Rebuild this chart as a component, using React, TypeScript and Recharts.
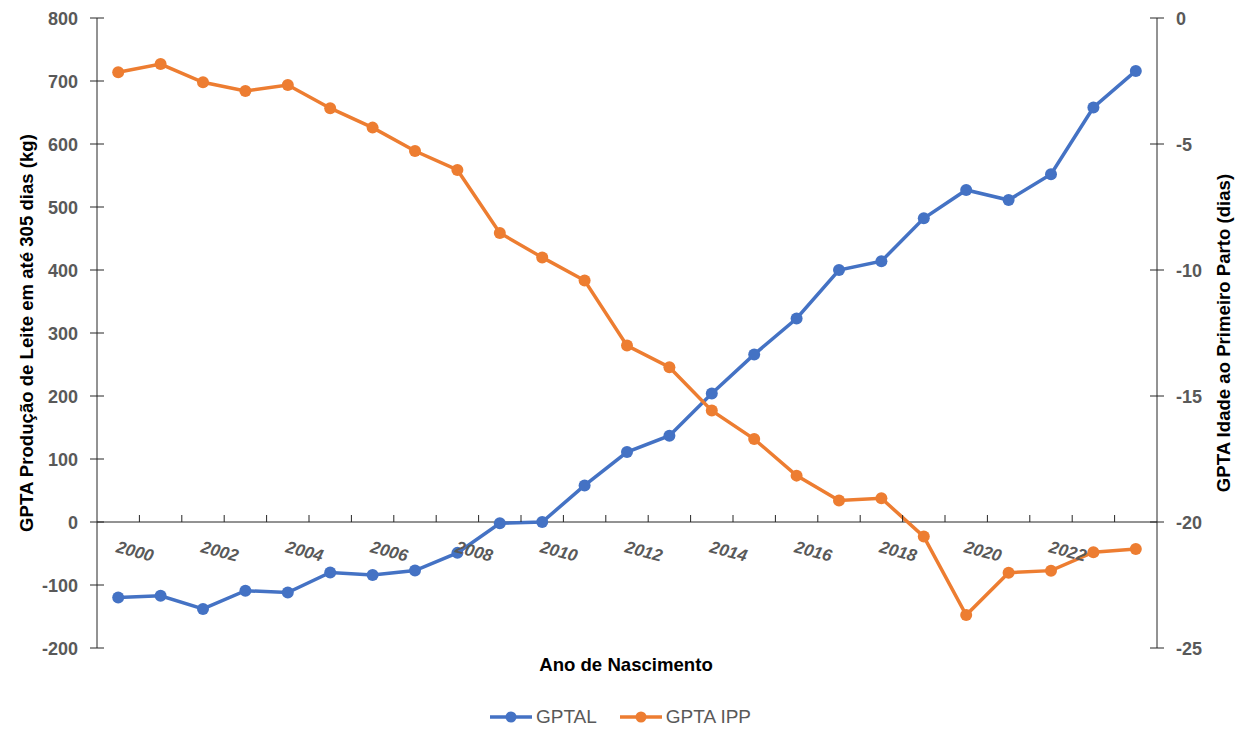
import React from 'react';
import { Legend, Line, LineChart, ReferenceLine, XAxis, YAxis } from 'recharts';

// Ano de nascimento (categorias)
const years = [
  '2000', '2001', '2002', '2003', '2004', '2005', '2006', '2007', '2008', '2009', '2010', '2011',
  '2012', '2013', '2014', '2015', '2016', '2017', '2018', '2019', '2020', '2021', '2022', '2023', '2024',
];

// GPTA Produção de Leite em até 305 dias (kg)
const gptal = [
  -120, -117, -138, -109, -112, -80, -84, -77, -49, -2, 0, 58,
  111, 137, 204, 266, 323, 400, 414, 482, 527, 511, 552, 658, 716,
];

// GPTA Idade ao Primeiro Parto (dias)
const gptaIpp = [
  -2.15, -1.83, -2.55, -2.9, -2.66, -3.58, -4.35, -5.28, -6.03, -8.53, -9.5, -10.42,
  -13.0, -13.86, -15.58, -16.71, -18.16, -19.15, -19.06, -20.58, -23.69, -22.01, -21.93, -21.2, -21.07,
];

const xLabels = ['2000', '2002', '2004', '2006', '2008', '2010', '2012', '2014', '2016', '2018', '2020', '2022'];
const leftTicks = [-200, -100, 0, 100, 200, 300, 400, 500, 600, 700, 800];
const rightTicks = [-25, -20, -15, -10, -5, 0];

const seriesNames = ['GPTAL', 'GPTA IPP'];
const seriesColors = ['#4472C4', '#ED7D31'];

const W = 1240;
const H = 734;
const PLOT_TOP = 18;
const PLOT_LEFT = 97;
const PLOT_RIGHT = 1157;
const PLOT_BOTTOM = 648;
const AXIS_W = 60;
const XAXIS_H = 30;
const BAND = (PLOT_RIGHT - PLOT_LEFT) / years.length;
const LEFT_MIN = -200;
const LEFT_MAX = 800;
// pixel row of the value 0 on the left axis, where the category axis crosses
const Y_ZERO = PLOT_TOP + ((PLOT_BOTTOM - PLOT_TOP) * LEFT_MAX) / (LEFT_MAX - LEFT_MIN);

const NARROW = "'Liberation Sans Narrow', 'Arial Narrow', 'Liberation Sans', Arial, sans-serif";
const SANS = "'Liberation Sans', Arial, sans-serif";
const AXIS_COLOR = '#262626';
const TICK_COLOR = '#595959';

const data = years.map((year, i) => ({ year, gptal: gptal[i], gptaIpp: gptaIpp[i] }));

function LeftTick({ x, y, payload }: any) {
  return (
    <g>
      <line x1={x - 7} x2={x + 7} y1={y} y2={y} stroke={AXIS_COLOR} strokeWidth={1} />
      <text x={x - 19} y={y} dy={6.5} textAnchor="end" fill={TICK_COLOR} fontFamily={NARROW} fontWeight="bold" fontSize={18}>
        {payload.value}
      </text>
    </g>
  );
}

function RightTick({ x, y, payload }: any) {
  return (
    <g>
      <line x1={x - 7} x2={x + 7} y1={y} y2={y} stroke={AXIS_COLOR} strokeWidth={1} />
      <text x={x + 19} y={y} dy={6.5} textAnchor="start" fill={TICK_COLOR} fontFamily={NARROW} fontWeight="bold" fontSize={18}>
        {payload.value}
      </text>
    </g>
  );
}

function YearTick({ x, payload, index }: any) {
  const bx = x - BAND / 2;
  const ty = Y_ZERO + 30;
  return (
    <g>
      {index > 0 && <line x1={bx} x2={bx} y1={Y_ZERO - 7} y2={Y_ZERO} stroke={AXIS_COLOR} strokeWidth={1} />}
      {xLabels.includes(payload.value) && (
        <text
          x={x - 3}
          y={ty}
          transform={`rotate(15, ${x - 3}, ${ty})`}
          textAnchor="start"
          fill={TICK_COLOR}
          fontFamily={NARROW}
          fontWeight="bold"
          fontStyle="italic"
          fontSize={17}
        >
          {payload.value}
        </text>
      )}
    </g>
  );
}

function AxisTitle({ tx, ty, text, rot }: any) {
  return (
    <text
      x={tx}
      y={ty}
      transform={rot ? `rotate(${rot}, ${tx}, ${ty})` : undefined}
      textAnchor="middle"
      fill="#000"
      fontFamily={SANS}
      fontWeight="bold"
      fontSize={18.6}
    >
      {text}
    </text>
  );
}

function LegendContent() {
  return (
    <div style={{ display: 'flex', justifyContent: 'center', gap: 22, fontFamily: NARROW, fontSize: 19, color: TICK_COLOR }}>
      {seriesNames.map((name, i) => (
        <div key={name} style={{ display: 'flex', alignItems: 'center' }}>
          <svg width={44} height={14} style={{ marginRight: 3 }}>
            <line x1={1} x2={43} y1={7} y2={7} stroke={seriesColors[i]} strokeWidth={3.5} />
            <circle cx={22} cy={7} r={5.5} fill={seriesColors[i]} />
          </svg>
          <span>{name}</span>
        </div>
      ))}
    </div>
  );
}

export default function App() {
  return (
    <div style={{ position: 'absolute', left: 0, top: 0, width: W, height: H, background: '#fff' }}>
      <LineChart
        width={W}
        height={H}
        data={data}
        margin={{
          top: PLOT_TOP,
          left: PLOT_LEFT - AXIS_W,
          right: W - PLOT_RIGHT - AXIS_W,
          bottom: H - PLOT_BOTTOM - XAXIS_H,
        }}
      >
        <XAxis
          dataKey="year"
          interval={0}
          height={XAXIS_H}
          padding={{ left: BAND / 2, right: BAND / 2 }}
          axisLine={false}
          tickLine={false}
          tick={<YearTick />}
          label={<AxisTitle tx={626} ty={671} text="Ano de Nascimento" />}
        />
        <YAxis
          yAxisId="left"
          orientation="left"
          width={AXIS_W}
          domain={[LEFT_MIN, LEFT_MAX]}
          ticks={leftTicks}
          interval={0}
          tickSize={0}
          tickMargin={0}
          tickLine={false}
          axisLine={{ stroke: AXIS_COLOR, strokeWidth: 1 }}
          tick={<LeftTick />}
          label={<AxisTitle tx={33} ty={333} rot={-90} text="GPTA Produção de Leite em até 305 dias (kg)" />}
        />
        <YAxis
          yAxisId="right"
          orientation="right"
          width={AXIS_W}
          domain={[-25, 0]}
          ticks={rightTicks}
          interval={0}
          tickSize={0}
          tickMargin={0}
          tickLine={false}
          axisLine={{ stroke: AXIS_COLOR, strokeWidth: 1 }}
          tick={<RightTick />}
          label={<AxisTitle tx={1230} ty={333} rot={-90} text="GPTA Idade ao Primeiro Parto (dias)" />}
        />
        <ReferenceLine yAxisId="left" y={0} stroke={AXIS_COLOR} strokeWidth={1} />
        <Legend verticalAlign="middle" align="center" content={<LegendContent />} wrapperStyle={{ top: 706, left: 0, width: W }} />
        <Line
          yAxisId="left"
          dataKey="gptal"
          name={seriesNames[0]}
          stroke={seriesColors[0]}
          strokeWidth={3.5}
          dot={{ r: 6, fill: seriesColors[0], stroke: seriesColors[0], strokeWidth: 0 }}
          isAnimationActive={false}
        />
        <Line
          yAxisId="right"
          dataKey="gptaIpp"
          name={seriesNames[1]}
          stroke={seriesColors[1]}
          strokeWidth={3.5}
          dot={{ r: 6, fill: seriesColors[1], stroke: seriesColors[1], strokeWidth: 0 }}
          isAnimationActive={false}
        />
      </LineChart>
    </div>
  );
}
